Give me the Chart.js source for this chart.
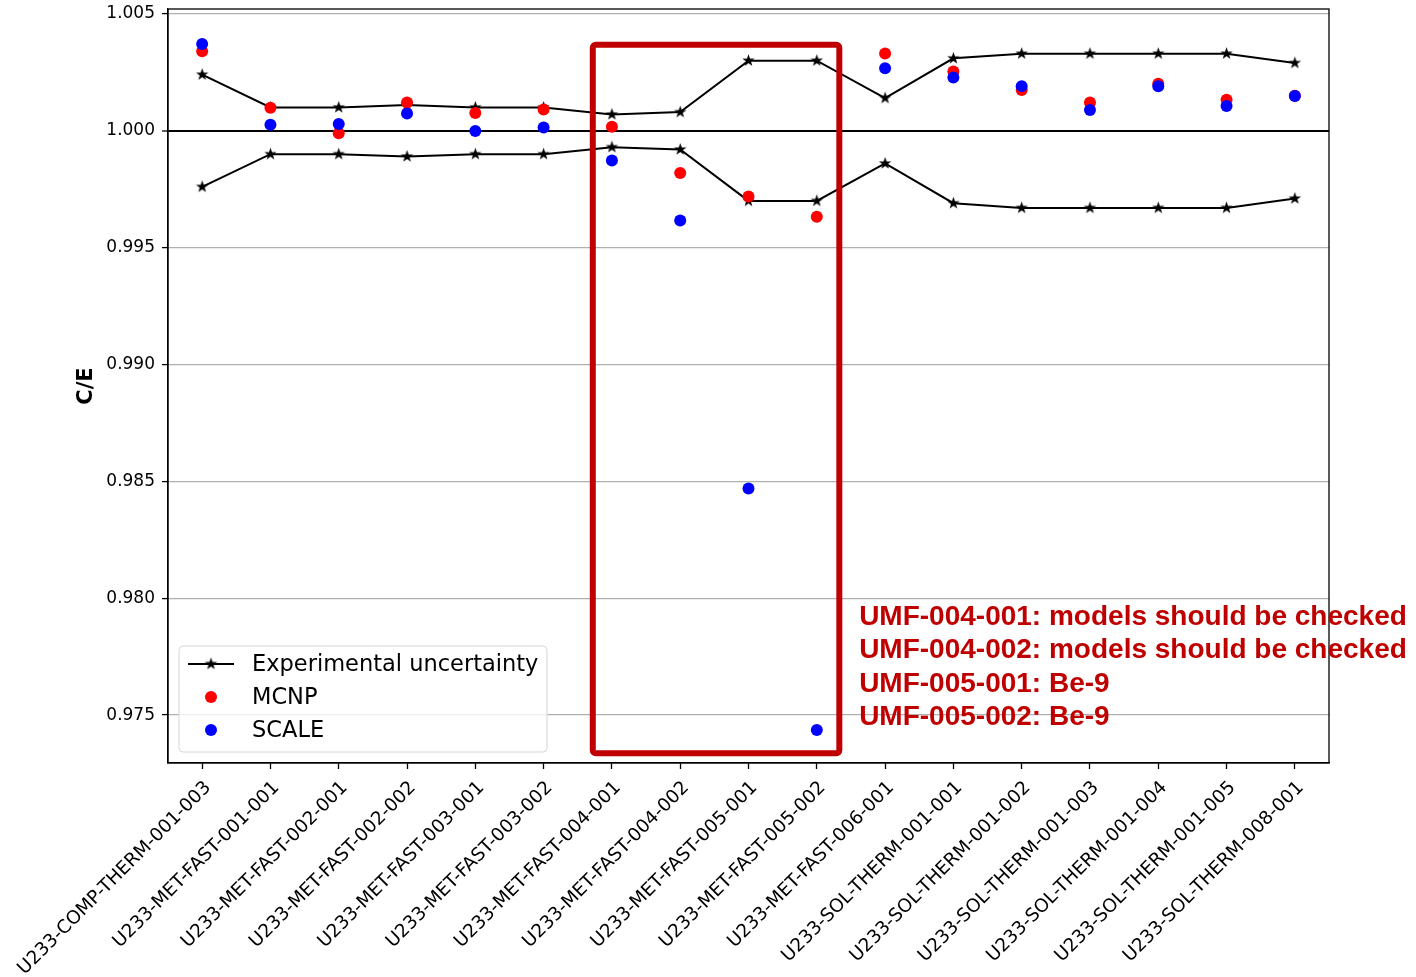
<!DOCTYPE html>
<html>
<head>
<meta charset="utf-8">
<title>C/E comparison</title>
<script src="https://cdn.jsdelivr.net/npm/chart.js@4.4.1/dist/chart.umd.min.js"></script>
<style>
  html, body { margin: 0; padding: 0; background: #ffffff; }
  #wrap { width: 1416px; height: 977px; }
</style>
</head>
<body>
<div id="wrap"><canvas id="chart" width="1416" height="977"></canvas></div>
<script>
// Benchmark cases
const categories = [
  'U233-COMP-THERM-001-003',
  'U233-MET-FAST-001-001',
  'U233-MET-FAST-002-001',
  'U233-MET-FAST-002-002',
  'U233-MET-FAST-003-001',
  'U233-MET-FAST-003-002',
  'U233-MET-FAST-004-001',
  'U233-MET-FAST-004-002',
  'U233-MET-FAST-005-001',
  'U233-MET-FAST-005-002',
  'U233-MET-FAST-006-001',
  'U233-SOL-THERM-001-001',
  'U233-SOL-THERM-001-002',
  'U233-SOL-THERM-001-003',
  'U233-SOL-THERM-001-004',
  'U233-SOL-THERM-001-005',
  'U233-SOL-THERM-008-001'
];

// 1 +/- experimental uncertainty
const uncUpper = [1.0024, 1.0010, 1.0010, 1.0011, 1.0010, 1.0010, 1.0007, 1.0008, 1.0030, 1.0030,
                  1.0014, 1.0031, 1.0033, 1.0033, 1.0033, 1.0033, 1.0029];
const uncLower = [0.9976, 0.9990, 0.9990, 0.9989, 0.9990, 0.9990, 0.9993, 0.9992, 0.9970, 0.9970,
                  0.9986, 0.9969, 0.9967, 0.9967, 0.9967, 0.9967, 0.9971];

// Calculated / experimental keff
const mcnpCE  = [1.00340, 1.00098, 0.99989, 1.00121, 1.00076, 1.00091, 1.00017, 0.99819, 0.99719, 0.99632,
                 1.00331, 1.00254, 1.00174, 1.00121, 1.00201, 1.00133, 1.00150];
const scaleCE = [1.00371, 1.00026, 1.00029, 1.00074, 0.99999, 1.00014, 0.99873, 0.99616, 0.98469, 0.97436,
                 1.00268, 1.00228, 1.00191, 1.00089, 1.00190, 1.00106, 1.00149];

// Y axis
const yTicks = [0.975, 0.980, 0.985, 0.990, 0.995, 1.000, 1.005];
const yMin = 0.97295;
const yMax = 1.00521;

// Highlighted cases (category index range, C/E range) and notes
const boxX = [5.72, 9.33];
const boxY = [0.97337, 1.00368];
const notes = [
  'UMF-004-001: models should be checked',
  'UMF-004-002: models should be checked',
  'UMF-005-001: Be-9',
  'UMF-005-002: Be-9'
];
const notesAnchor = { x: 9.62, y: 0.97920 };

const RED_NOTE = '#c00000';

// Filled five-point star marker
function makeStar(R) {
  const size = Math.ceil(R * 2 + 2);
  const c = document.createElement('canvas');
  c.width = size; c.height = size;
  const g = c.getContext('2d');
  const cx = size / 2, cy = size / 2, r = R * 0.4;
  g.beginPath();
  for (let i = 0; i < 10; i++) {
    const rad = i % 2 === 0 ? R : r;
    const a = -Math.PI / 2 + i * Math.PI / 5;
    const px = cx + rad * Math.cos(a), py = cy + rad * Math.sin(a);
    if (i === 0) g.moveTo(px, py); else g.lineTo(px, py);
  }
  g.closePath();
  g.fillStyle = '#000';
  g.fill();
  return c;
}
const star = makeStar(6.5);

// Frame, highlight box, notes and legend
const overlay = {
  id: 'overlay',
  afterDraw(chart) {
    const { ctx, chartArea: a, scales } = chart;
    const xs = scales.x, ys = scales.y;
    ctx.save();

    // top/right frame
    ctx.strokeStyle = '#000';
    ctx.lineWidth = 1.3;
    ctx.strokeRect(a.left, a.top, a.right - a.left, a.bottom - a.top);

    // highlight box
    const bx0 = xs.getPixelForValue(boxX[0]), bx1 = xs.getPixelForValue(boxX[1]);
    const by0 = ys.getPixelForValue(boxY[1]), by1 = ys.getPixelForValue(boxY[0]);
    ctx.strokeStyle = RED_NOTE;
    ctx.lineWidth = 6;
    ctx.lineJoin = 'round';
    ctx.beginPath();
    ctx.roundRect(bx0, by0, bx1 - bx0, by1 - by0, 3);
    ctx.stroke();

    // notes
    ctx.fillStyle = RED_NOTE;
    ctx.font = 'bold 28px "Liberation Sans", Arial, sans-serif';
    ctx.textAlign = 'left';
    ctx.textBaseline = 'middle';
    const nx = xs.getPixelForValue(notesAnchor.x);
    const ny = ys.getPixelForValue(notesAnchor.y);
    notes.forEach((t, i) => ctx.fillText(t, nx, ny + i * 33.5));

    // legend
    const lx = a.left + 11, lw = 368, lh = 106;
    const ly = a.bottom - 11 - lh;
    ctx.beginPath();
    ctx.roundRect(lx, ly, lw, lh, 4);
    ctx.fillStyle = 'rgba(255,255,255,0.8)';
    ctx.fill();
    ctx.strokeStyle = '#d6d6d6';
    ctx.lineWidth = 1;
    ctx.stroke();

    const hx0 = lx + 9, hx1 = lx + 55, hc = lx + 32, tx = lx + 73;
    const rows = [ly + 18, ly + 51, ly + 84];
    ctx.strokeStyle = '#000';
    ctx.lineWidth = 2;
    ctx.beginPath();
    ctx.moveTo(hx0, rows[0]); ctx.lineTo(hx1, rows[0]);
    ctx.stroke();
    ctx.drawImage(star, hc - star.width / 2, rows[0] - star.height / 2);
    ctx.fillStyle = '#ff0000';
    ctx.beginPath(); ctx.arc(hc, rows[1], 6, 0, Math.PI * 2); ctx.fill();
    ctx.fillStyle = '#0000ff';
    ctx.beginPath(); ctx.arc(hc, rows[2], 6, 0, Math.PI * 2); ctx.fill();

    ctx.fillStyle = '#000';
    ctx.font = '22.5px "DejaVu Sans", sans-serif';
    ctx.textBaseline = 'middle';
    ctx.fillText('Experimental uncertainty', tx, rows[0] + 1);
    ctx.fillText('MCNP', tx, rows[1] + 1);
    ctx.fillText('SCALE', tx, rows[2] + 1);

    ctx.restore();
  }
};

const uncStyle = {
  borderColor: '#000',
  borderWidth: 2,
  pointStyle: star,
  pointRadius: 6,
  pointHoverRadius: 6,
  backgroundColor: '#000',
  showLine: true,
  fill: false,
  tension: 0
};
const dotStyle = (c) => ({
  borderColor: c,
  backgroundColor: c,
  borderWidth: 0,
  pointRadius: 6,
  pointHoverRadius: 6,
  showLine: false
});

new Chart(document.getElementById('chart'), {
  type: 'line',
  data: {
    labels: categories,
    datasets: [
      Object.assign({ label: 'SCALE', data: scaleCE }, dotStyle('#0000ff')),
      Object.assign({ label: 'MCNP', data: mcnpCE }, dotStyle('#ff0000')),
      Object.assign({ label: 'Experimental uncertainty', data: uncUpper }, uncStyle),
      Object.assign({ label: 'Experimental uncertainty (lower)', data: uncLower }, uncStyle)
    ]
  },
  options: {
    responsive: false,
    animation: false,
    events: [],
    layout: { padding: { top: 9, right: 87, left: 74, bottom: 0 } },
    plugins: {
      legend: { display: false },
      tooltip: { enabled: false },
      title: { display: false }
    },
    scales: {
      x: {
        type: 'category',
        offset: true,
        afterFit(s) { s.height = 214; s.paddingLeft = 0; s.paddingRight = 0; },
        grid: {
          drawOnChartArea: false,
          drawTicks: true,
          tickLength: 6,
          tickColor: '#000',
          tickWidth: 1.3,
          offset: false
        },
        border: { display: true, color: '#000', width: 1.3 },
        ticks: {
          autoSkip: false,
          minRotation: 45,
          maxRotation: 45,
          padding: 8,
          labelOffset: 6,
          color: '#000',
          font: { family: '"DejaVu Sans", sans-serif', size: 18.5 }
        }
      },
      y: {
        type: 'linear',
        min: yMin,
        max: yMax,
        afterFit(s) { s.width = 94; s.paddingTop = 0; s.paddingBottom = 0; },
        afterBuildTicks(s) { s.ticks = yTicks.map(v => ({ value: v })); },
        title: {
          display: true,
          text: 'C/E',
          color: '#000',
          padding: 0,
          font: { family: '"DejaVu Sans", sans-serif', size: 21, weight: 'bold' }
        },
        grid: {
          color: (c) => (c.tick && Math.abs(c.tick.value - 1) < 1e-9) ? '#000' : '#b0b0b0',
          lineWidth: (c) => (c.tick && Math.abs(c.tick.value - 1) < 1e-9) ? 2 : 1.2,
          drawTicks: true,
          tickLength: 6,
          tickColor: '#000',
          tickWidth: 1.3
        },
        border: { display: true, color: '#000', width: 1.3 },
        ticks: {
          padding: 7,
          color: '#000',
          font: { family: '"DejaVu Sans", sans-serif', size: 17 },
          callback: (v) => Number(v).toFixed(3)
        }
      }
    }
  },
  plugins: [overlay]
});
</script>
</body>
</html>
